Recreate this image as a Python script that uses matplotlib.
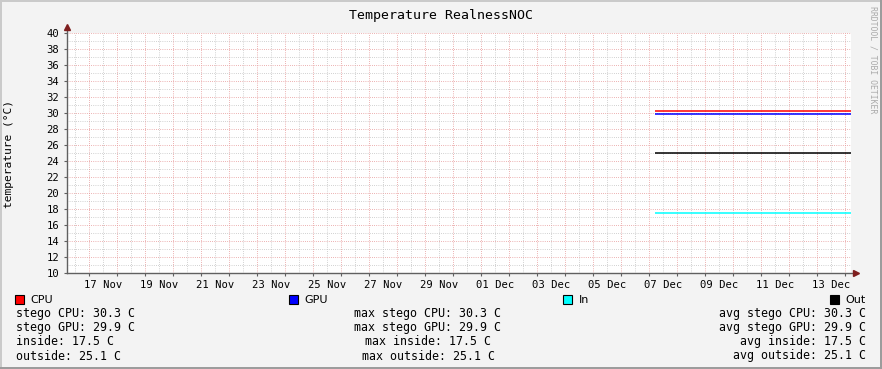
import matplotlib
matplotlib.use('Agg')
import matplotlib.pyplot as plt
import matplotlib.dates as mdates
from matplotlib.patches import Rectangle
from datetime import datetime, timedelta

# Readings (sensors only came online on 06 Dec, flat since then)
times = [datetime(2023, 12, 6, 16, 48), datetime(2023, 12, 13, 16, 48)]
stego_cpu = [30.3, 30.3]
stego_gpu = [29.9, 29.9]
inside = [17.5, 17.5]
outside = [25.1, 25.1]

legend_names = ['CPU', 'GPU', 'In', 'Out']
legend_colors = ['#ff0000', '#0000ff', '#00ffff', '#000000']

stat_names = ['stego CPU', 'stego GPU', 'inside', 'outside']
cur_vals = [30.3, 29.9, 17.5, 25.1]
max_vals = [30.3, 29.9, 17.5, 25.1]
avg_vals = [30.3, 29.9, 17.5, 25.1]

x_start = datetime(2023, 11, 15, 16, 48)
x_end = datetime(2023, 12, 13, 16, 48)
y_min, y_max = 10, 40

W, H = 882.0, 369.0
mono = 'DejaVu Sans Mono'
grid_red = '#e79a9a'
grid_grey = '#c4c4c4'
axis_col = '#606060'
arrow_col = '#7f1f1f'


def fx(x):
    return x / W


def fy(y):
    return 1 - y / H


fig = plt.figure(figsize=(W / 100, H / 100), dpi=100, facecolor='#f3f3f3')

# 3D-ish frame around canvas
fig.add_artist(Rectangle((0, fy(2)), 1, 2 / H, transform=fig.transFigure, color='#cacaca', lw=0))
fig.add_artist(Rectangle((0, 0), 2 / W, 1, transform=fig.transFigure, color='#cacaca', lw=0))
fig.add_artist(Rectangle((0, 0), 1, 2 / H, transform=fig.transFigure, color='#9c9c9c', lw=0))
fig.add_artist(Rectangle((fx(880), 0), 2 / W, 1, transform=fig.transFigure, color='#9c9c9c', lw=0))

# plot area
left, right, top, bottom = 67, 851, 33.3, 273.3
ax = fig.add_axes([fx(left), fy(bottom), (right - left) / W, (bottom - top) / H])
ax.set_facecolor('white')
for s in ax.spines.values():
    s.set_visible(False)

ax.set_xlim(mdates.date2num(x_start), mdates.date2num(x_end))
ax.set_ylim(y_min, y_max)

# grid: red major at noon / even values, grey minor at midnight / odd values
day0 = datetime(2023, 11, 16)
noons = [day0 + timedelta(days=i, hours=12) for i in range(28)]
midnights = [day0 + timedelta(days=i) for i in range(28)]
gkw = dict(lw=0.72, ls=(0, (0.72, 1.44)), snap=True)
for d in midnights:
    ax.axvline(mdates.date2num(d), color=grid_grey, zorder=0.5, **gkw)
for d in noons:
    ax.axvline(mdates.date2num(d), color=grid_red, zorder=0.6, **gkw)
for v in range(y_min + 1, y_max, 2):
    ax.axhline(v, color=grid_grey, zorder=0.5, **gkw)
for v in range(y_min + 2, y_max + 1, 2):
    ax.axhline(v, color=grid_red, zorder=0.6, **gkw)

# data lines
lkw = dict(lw=1.1, zorder=3, snap=True, solid_capstyle='butt')
ax.plot(times, stego_cpu, color=legend_colors[0], **lkw)
ax.plot(times, stego_gpu, color=legend_colors[1], **lkw)
ax.plot(times, inside, color=legend_colors[2], **lkw)
ax.plot(times, outside, color=legend_colors[3], **lkw)

# axes lines with arrows
ax.plot([0, 0], [0, 1.02], transform=ax.transAxes, color=axis_col, lw=1, clip_on=False, zorder=4)
ax.plot([0, 1.004], [0, 0], transform=ax.transAxes, color=axis_col, lw=1, clip_on=False, zorder=4)
ax.plot([0], [1.025], transform=ax.transAxes, marker='^', ms=4.5, color=arrow_col, clip_on=False, zorder=5)
ax.plot([1.006], [0], transform=ax.transAxes, marker='>', ms=4.5, color=arrow_col, clip_on=False, zorder=5)

# ticks
label_days = [datetime(2023, 11, 17) + timedelta(days=2 * i) for i in range(14)]
ax.set_xticks([mdates.date2num(d) for d in label_days])
ax.set_xticklabels([d.strftime('%d %b') for d in label_days], family=mono, fontsize=7.6)
ax.set_xticks([mdates.date2num(d) for d in noons], minor=True)
ax.tick_params(axis='x', which='major', length=0, pad=4.5)
ax.tick_params(axis='x', which='minor', length=2, color=axis_col, width=0.8)
ax.set_yticks(range(y_min, y_max + 1, 2))
ax.set_yticklabels([str(v) for v in range(y_min, y_max + 1, 2)], family=mono, fontsize=7.6)
ax.tick_params(axis='y', which='major', length=2.5, color=axis_col, width=0.8, pad=3)

# texts
fig.text(fx(441), fy(18.5), 'Temperature RealnessNOC', ha='center', va='baseline', family=mono, fontsize=9.5)
fig.text(fx(9.5), fy(153.7), 'temperature (°C)', ha='center', va='center', rotation=90, family=mono, fontsize=8.1)
fig.text(fx(873), fy(60), 'RRDTOOL / TOBI OETIKER', ha='center', va='center', rotation=270,
         family=mono, fontsize=5.9, color='#aaaaaa')

# legend
sq_x = [15, 289.3, 563.3, 830]
lab_x = [30.7, 304.7, 579, 845.7]
for i in range(len(legend_names)):
    fig.add_artist(Rectangle((fx(sq_x[i]), fy(304)), 9 / W, 9 / H, transform=fig.transFigure,
                             facecolor=legend_colors[i], edgecolor='black', lw=0.8))
    fig.text(fx(lab_x[i]), fy(303.3), legend_names[i], ha='left', va='baseline',
             family='DejaVu Sans', fontsize=8)

row_y = [317.3, 331.5, 345.2, 359.5]
for i in range(len(stat_names)):
    fig.text(fx(16.5), fy(row_y[i]), '%s: %.1f C' % (stat_names[i], cur_vals[i]),
             ha='left', va='baseline', family=mono, fontsize=8.4)
    fig.text(fx(428), fy(row_y[i]), 'max %s: %.1f C' % (stat_names[i], max_vals[i]),
             ha='center', va='baseline', family=mono, fontsize=8.4)
    fig.text(fx(866), fy(row_y[i]), 'avg %s: %.1f C' % (stat_names[i], avg_vals[i]),
             ha='right', va='baseline', family=mono, fontsize=8.4)

fig.savefig('out.png', dpi=100, facecolor=fig.get_facecolor())
